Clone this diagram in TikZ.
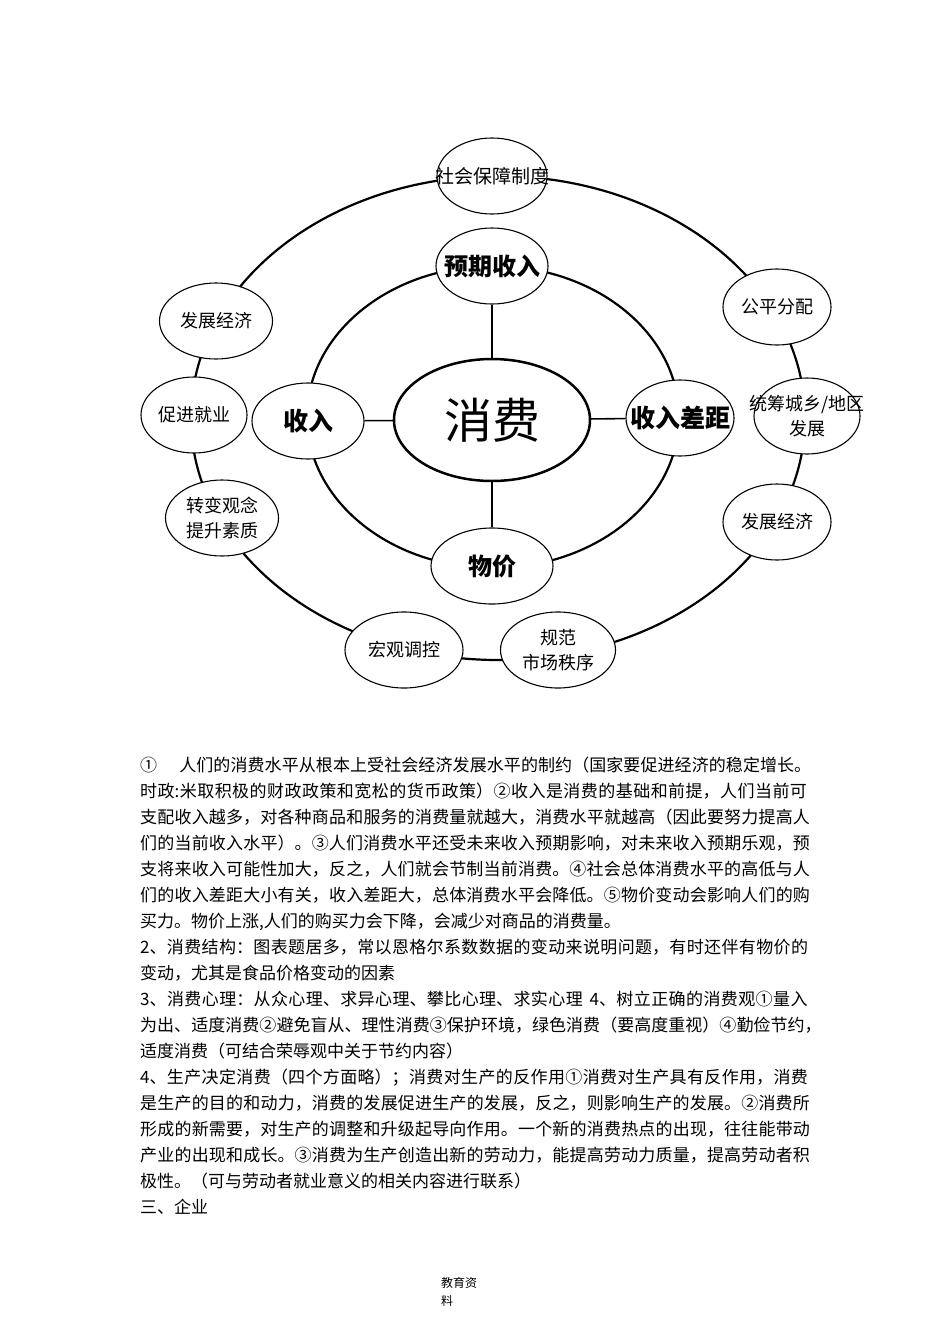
\documentclass[tikz,border=0pt]{standalone}
\usepackage{fontspec}
\newfontfamily\cjk{Noto Sans CJK SC}
\usetikzlibrary{positioning,shapes.geometric}
% break points (with stretchable glue) between CJK characters
\XeTeXlinebreaklocale "zh"
\XeTeXlinebreakskip=0pt plus 3pt minus 1pt

\begin{document}
\begin{tikzpicture}[x=1pt, y=-1pt,
  ring/.style={line width=2.2pt},
  spoke/.style={line width=1.6pt},
  bubble/.style={ellipse, draw, line width=1.1pt, fill=white, minimum width=110pt,
    minimum height=76pt, inner xsep=-25pt, inner ysep=0pt, align=center,
    font=\cjk\fontsize{18}{25}\selectfont},
  hub/.style={bubble, font=\cjk\bfseries\fontsize{24}{28}\selectfont},
  txt/.style={anchor=base west, inner sep=0pt, font=\cjk\fontsize{17}{20}\selectfont},
  full/.style={txt, text width=#1,
    execute at begin node={\parindent=0pt\parfillskip=0pt\tolerance=9999\emergencystretch=0pt}},
  full/.default=672pt,
  foot/.style={anchor=base west, inner sep=0pt, font=\cjk\fontsize{12}{14}\selectfont}]
\useasboundingbox[fill=white] (0,0) rectangle (950,1344);

% Rings
\coordinate (outermid) at (498,418);
\coordinate (innermid) at (493,417);
\draw[ring] (outermid) ellipse [x radius=307pt, y radius=242pt];
\draw[ring] (innermid) ellipse [x radius=186pt, y radius=151pt];

% Centre
\node[ellipse, draw, line width=2.5pt, fill=white, minimum width=196pt, minimum height=122pt,
  inner sep=0pt, font=\cjk\fontsize{48}{52}\selectfont] (xf) at (492,420) {消费};

% Inner ring
\node[hub, minimum width=112pt] (yqsr) at (492,266) {预期收入};
\node[hub, minimum width=112pt, font=\cjk\bfseries\fontsize{25}{28}\selectfont] (sr) at (308,421) {收入};
\node[hub, minimum width=108pt, font=\cjk\bfseries\fontsize{25}{28}\selectfont] (srcj) at (680,418) {收入差距};
\node[hub, minimum width=122pt] (wj) at (492,566) {物价};

\draw[spoke] (xf) -- (yqsr);
\draw[spoke] (xf) -- (sr);
\draw[spoke] (xf) -- (srcj);
\draw[spoke] (xf) -- (wj);

% Outer ring
\node[bubble, minimum width=110pt, font=\cjk\fontsize{19}{25}\selectfont] (shbz) at (492,176) {社会保障制度};
\node[bubble, minimum width=113pt] (fzjj) at (216,321) {发展经济};
\node[bubble, minimum width=106pt] (cjjy) at (194,415) {促进就业};
\node[bubble, minimum width=113pt] (zbgn) at (222,518) {转变观念\\提升素质};
\node[bubble, minimum width=118pt] (hgtk) at (404,650) {宏观调控};
\node[bubble, minimum width=115pt] (gfsc) at (558,650) {规范\\市场秩序};
\node[bubble, minimum width=108pt] (fzjj2) at (777,522) {发展经济};
\node[bubble, minimum width=106pt] (tccx) at (807,416) {统筹城乡/地区\\发展};
\node[bubble, minimum width=108pt] (gpfp) at (777,307) {公平分配};

% Text below the diagram
\node[full] (l1) at (140,771) {①\hspace{1.3em}人们的消费水平从根本上受社会经济发展水平的制约（国家要促进经济的稳定增长。};
\node[full] (l2) at (140,797) {时政:米取积极的财政政策和宽松的货币政策）②收入是消费的基础和前提，人们当前可};
\node[full] (l3) at (140,823) {支配收入越多，对各种商品和服务的消费量就越大，消费水平就越高（因此要努力提高人};
\node[full] (l4) at (140,849) {们的当前收入水平）。③人们消费水平还受未来收入预期影响，对未来收入预期乐观，预};
\node[full] (l5) at (140,875) {支将来收入可能性加大，反之，人们就会节制当前消费。④社会总体消费水平的高低与人};
\node[full] (l6) at (140,901) {们的收入差距大小有关，收入差距大，总体消费水平会降低。⑤物价变动会影响人们的购};
\node[txt] (l7) at (140,927) {买力。物价上涨,人们的购买力会下降，会减少对商品的消费量。};
\node[full] (l8) at (140,953) {2、消费结构：图表题居多，常以恩格尔系数数据的变动来说明问题，有时还伴有物价的};
\node[txt] (l9) at (140,979) {变动，尤其是食品价格变动的因素};
\node[full] (l10) at (140,1005) {3、消费心理：从众心理、求异心理、攀比心理、求实心理\hspace{0.4em}4、树立正确的消费观①量入};
\node[full=682pt] (l11) at (140,1031) {为出、适度消费②避免盲从、理性消费③保护环境，绿色消费（要高度重视）④勤俭节约，};
\node[txt] (l12) at (140,1057) {适度消费（可结合荣辱观中关于节约内容）};
\node[full] (l13) at (140,1083) {4、生产决定消费（四个方面略）；消费对生产的反作用①消费对生产具有反作用，消费};
\node[full] (l14) at (140,1109) {是生产的目的和动力，消费的发展促进生产的发展，反之，则影响生产的发展。②消费所};
\node[full] (l15) at (140,1135) {形成的新需要，对生产的调整和升级起导向作用。一个新的消费热点的出现，往往能带动};
\node[full] (l16) at (140,1161) {产业的出现和成长。③消费为生产创造出新的劳动力，能提高劳动力质量，提高劳动者积};
\node[txt] (l17) at (140,1187) {极性。（可与劳动者就业意义的相关内容进行联系）};
\node[txt] (l18) at (140,1213) {三、企业};

% Footer
\node[foot] (ft1) at (441,1287) {教育资};
\node[foot, below=7pt of ft1.south west, anchor=north west] (ft2) {料};
\end{tikzpicture}
\end{document}
